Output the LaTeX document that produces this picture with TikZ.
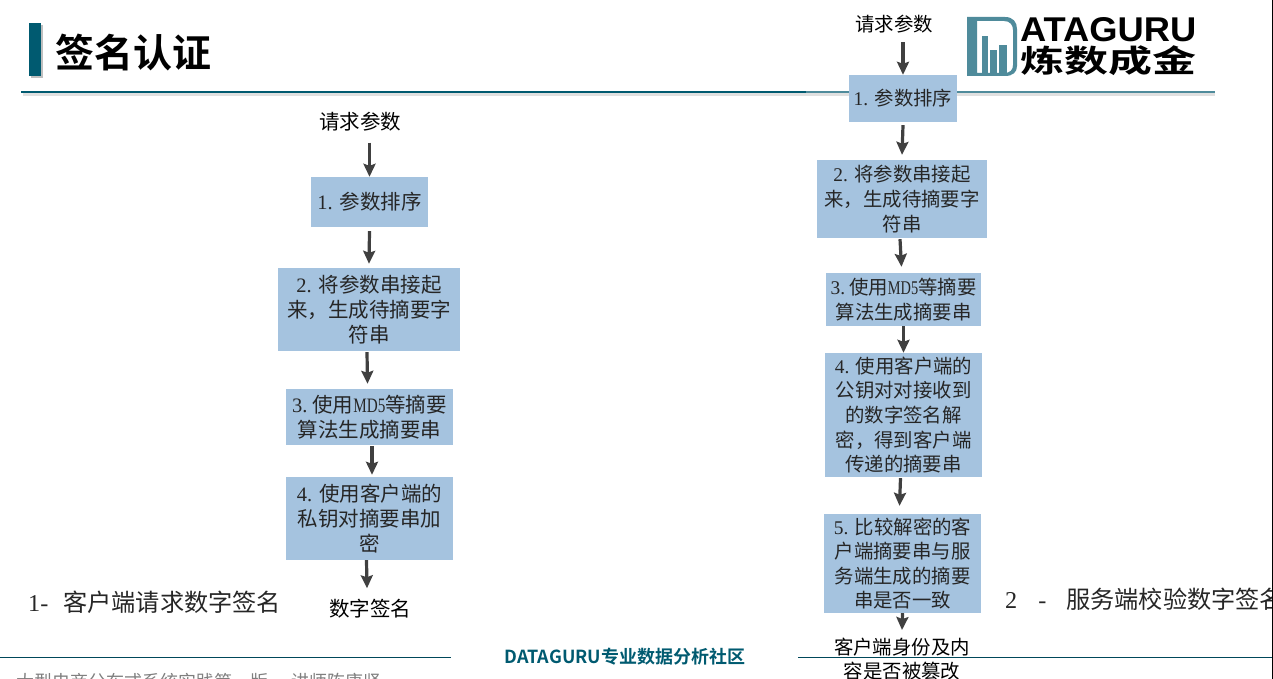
\documentclass[tikz,border=0pt]{standalone}
\usepackage{fontspec}
\usetikzlibrary{arrows.meta}
\setmainfont{Liberation Serif}
\newfontfamily\cjk{Noto Sans CJK SC}
\newfontfamily\cjkbf[BoldFont={Noto Sans CJK SC Bold}]{Noto Sans CJK SC}
\newfontfamily\latn{Liberation Serif}
\newfontfamily\logofont{Liberation Sans}
\newcommand{\nm}[1]{{\latn #1}}
\newcommand{\mdfive}{\scalebox{.74}[1]{\latn MD5}}
\definecolor{boxblue}{HTML}{A5C3DF}
\definecolor{deepteal}{HTML}{005A70}
\definecolor{paleteal}{HTML}{4F8B9B}
\definecolor{arrowgray}{HTML}{404040}
\definecolor{footgray}{HTML}{7F7F7F}
\tikzset{
  stepbox/.style={fill=boxblue, align=center, inner sep=0pt, text=black!85},
  bigstep/.style={stepbox, font=\cjk\fontsize{20.5}{25}\selectfont},
  smallstep/.style={stepbox, font=\cjk\fontsize{19.4}{24.6}\selectfont},
  caption/.style={inner sep=0pt, align=center, font=\cjk\fontsize{20.5}{25}\selectfont},
  smallcaption/.style={caption, font=\cjk\fontsize{19.4}{23.5}\selectfont},
  sidenote/.style={inner sep=0pt, anchor=west, text=black!85, font=\cjk\fontsize{24.2}{28}\selectfont},
  flow/.style={draw=arrowgray, line width=3.2pt, -{Stealth[length=13pt,width=12pt,inset=2pt]}}
}
\begin{document}
\begin{tikzpicture}[x=1pt,y=-1pt]
  \useasboundingbox (0,0) rectangle (1273,679);
  % title
  \fill[black!25] (31,25) rectangle (43,78);
  \fill[deepteal] (29,23) rectangle (41,76);
  \node[inner sep=0pt, anchor=west, font=\cjkbf\bfseries\fontsize{39}{39}\selectfont] (title) at (55,53) {签名认证};
  % header rule
  \fill[black!12] (23,93) rectangle (1215,96);
  \draw[deepteal, line width=1.5pt] (21,92) -- (806,92);
  \draw[paleteal, line width=1.5pt] (806,92) -- (1215,92);
  % logo
  \fill[paleteal, even odd rule] (967,17) -- (1005,17) .. controls (1013,17) and (1017,22) .. (1017,29) -- (1017,66) .. controls (1017,72) and (1013,76) .. (1005,76) -- (967,76) -- cycle
    (977,21) -- (1004,21) .. controls (1010,21) and (1013,25) .. (1013,30) -- (1013,65) .. controls (1013,70) and (1010,73) .. (1004,73) -- (977,73) -- cycle;
  \fill[paleteal] (982,36) rectangle (988,73);
  \fill[paleteal] (990,50) rectangle (997,73);
  \fill[paleteal] (999,45) rectangle (1007,73);
  \node[inner sep=0pt, anchor=west] (logotop) at (1020,29.5) {\resizebox{176pt}{24pt}{\logofont\bfseries ATAGURU}};
  \node[inner sep=0pt, anchor=west] (logobottom) at (1020,61) {\resizebox*{176pt}{30pt}{\cjkbf\bfseries 炼数成金}};
  % footer
  \draw[deepteal!80!black] (0,657.5) -- (451,657.5);
  \draw[deepteal!80!black] (798,657.5) -- (1273,657.5);
  \node[inner sep=0pt, text=deepteal, font=\cjkbf\bfseries\fontsize{18}{18}\selectfont] (foot) at (625,657) {DATAGURU专业数据分析社区};
  \node[inner sep=0pt, anchor=west, text=footgray, font=\cjk\fontsize{18}{18}\selectfont] (course) at (16,682) {大型电商分布式系统实践第一版\hbox to 23pt{\hfil —\hfil}讲师陈康贤};
  % left column
  \node[caption] (lin) at (360,122) {请求参数};
  \node[bigstep, minimum width=117pt, minimum height=50pt] (l1) at (369.5,202) {\nm{1. }参数排序};
  \node[bigstep, minimum width=182pt, minimum height=83pt] (l2) at (369,309.5) {\nm{2. }将参数串接起\\来，生成待摘要字\\符串};
  \node[bigstep, minimum width=167pt, minimum height=56pt] (l3) at (369.5,417) {\nm{3.}\hspace{5pt}使用\mdfive 等摘要\\算法生成摘要串};
  \node[bigstep, minimum width=167pt, minimum height=83pt] (l4) at (369.5,518.5) {\nm{4. }使用客户端的\\私钥对摘要串加\\密};
  \node[caption] (lout) at (370,609) {数字签名};
  \node[sidenote] (lnote) at (28,602) {\nm{1-}\hspace{15pt}客户端请求数字签名};
  % right column
  \node[smallcaption] (rin) at (894,24) {请求参数};
  \node[smallstep, minimum width=108pt, minimum height=47pt] (r1) at (903,98.5) {\nm{1. }参数排序};
  \node[smallstep, minimum width=170pt, minimum height=78pt] (r2) at (902,199) {\nm{2. }将参数串接起\\来，生成待摘要字\\符串};
  \node[smallstep, minimum width=155pt, minimum height=53pt] (r3) at (903.5,299.5) {\nm{3.}\hspace{4pt}使用\mdfive 等摘要\\算法生成摘要串};
  \node[smallstep, minimum width=157pt, minimum height=124pt] (r4) at (903.5,415) {\nm{4. }使用客户端的\\公钥对对接收到\\的数字签名解\\密，得到客户端\\传递的摘要串};
  \node[smallstep, minimum width=157pt, minimum height=99pt] (r5) at (902.5,563.5) {\nm{5. }比较解密的客\\户端摘要串与服\\务端生成的摘要\\串是否一致};
  \node[smallcaption] (rout) at (902,659) {客户端身份及内\\容是否被篡改};
  \node[sidenote] (rnote) at (1005,599) {\nm{2}\hspace{21pt}\nm{-}\hspace{20pt}服务端校验数字签名};
  % arrows
  \draw[flow] ([xshift=9.5pt,yshift=-11pt]lin.south) -- (l1.north);
  \draw[flow] ([yshift=-4pt]l1.south) -- ([yshift=4pt]l2.north);
  \draw[flow] ([xshift=-2pt,yshift=-1pt]l2.south) -- ([xshift=-2pt,yshift=5pt]l3.north);
  \draw[flow] ([xshift=2.5pt,yshift=-1pt]l3.south) -- ([xshift=2.5pt,yshift=2pt]l4.north);
  \draw[flow] ([xshift=-3pt]l4.south) -- ([xshift=-3pt,yshift=11pt]lout.north);
  \draw[flow] ([xshift=9pt,yshift=-9pt]rin.south) -- (r1.north);
  \draw[flow] ([yshift=-3pt]r1.south) -- ([yshift=5pt]r2.north);
  \draw[flow] ([xshift=-2pt,yshift=-1pt]r2.south) -- ([xshift=-2pt,yshift=6pt]r3.north);
  \draw[flow] (r3.south) -- (r4.north);
  \draw[flow] ([xshift=-3pt,yshift=-1pt]r4.south) -- ([xshift=-3pt,yshift=8pt]r5.north);
  \draw[flow] (r5.south) -- ([yshift=8pt]rout.north);
  % right page edge
  \fill[black] (1272,0) rectangle (1273,679);
\end{tikzpicture}
\end{document}
